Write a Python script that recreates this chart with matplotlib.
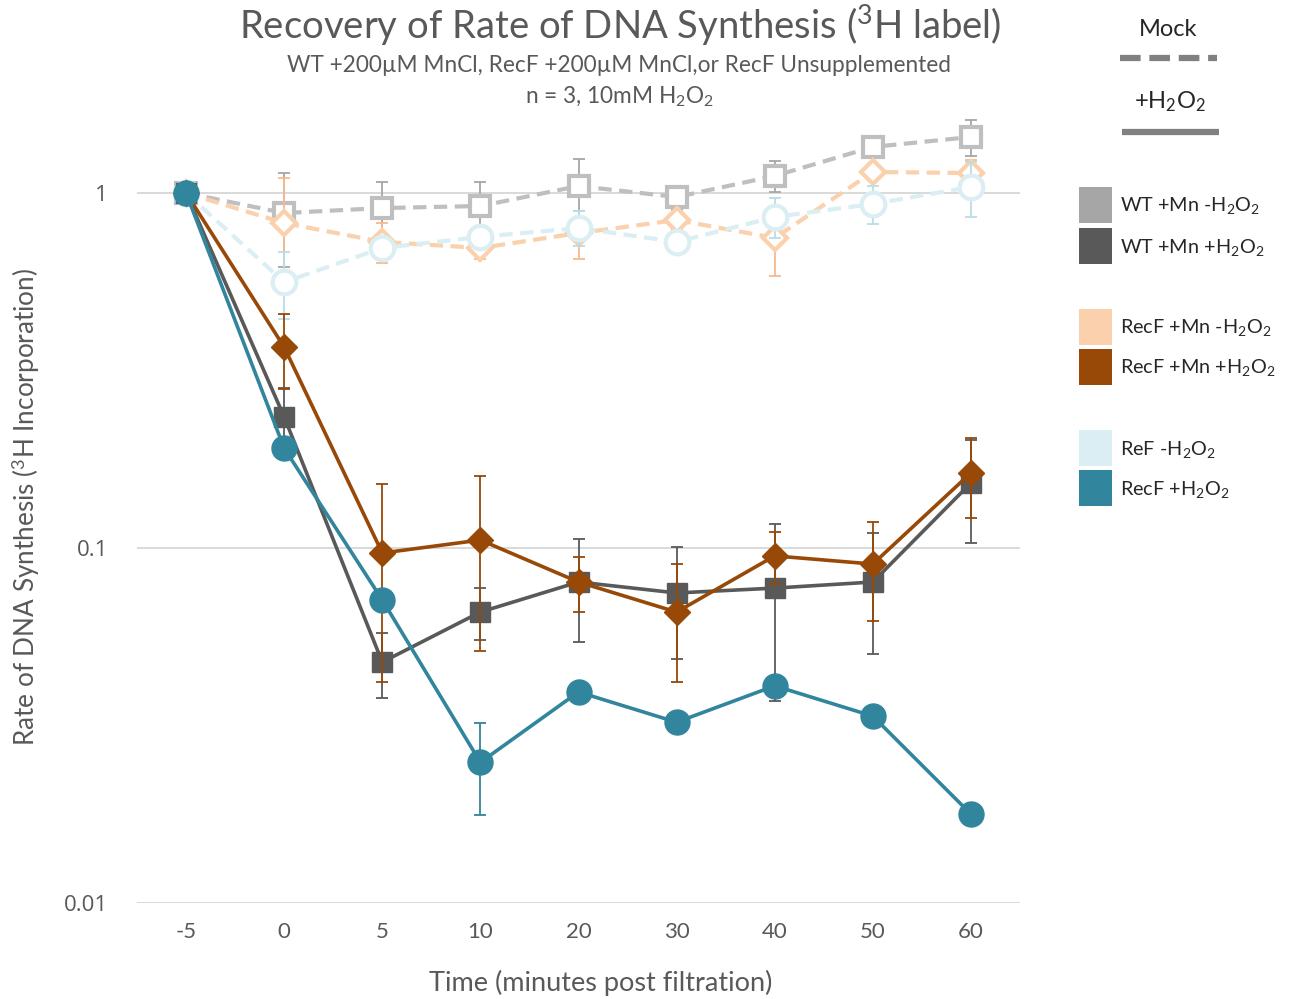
import matplotlib
matplotlib.use("Agg")
import matplotlib.pyplot as plt
from matplotlib.patches import Rectangle
from matplotlib.lines import Line2D

plt.rcParams['font.family'] = ['Lato', 'DejaVu Sans']
plt.rcParams['mathtext.fontset'] = 'custom'
plt.rcParams['mathtext.rm'] = 'Lato'
plt.rcParams['mathtext.it'] = 'Lato:italic'
plt.rcParams['mathtext.bf'] = 'Lato:bold'

# ---------------- data ----------------
time_labels = ['-5', '0', '5', '10', '20', '30', '40', '50', '60']

wt_mock = [1.0, 0.878, 0.907, 0.919, 1.046, 0.974, 1.117, 1.348, 1.438]
wt_mock_err = [0.0, 0.26, 0.17, 0.155, 0.20, 0.07, 0.11, 0.05, 0.17]

recf_mn_mock = [1.0, 0.823, 0.728, 0.700, 0.771, 0.839, 0.747, 1.146, 1.138]
recf_mn_mock_err = [0.0, 0.28, 0.093, 0.05, 0.12, 0.05, 0.163, 0.05, 0.10]

recf_mock = [1.0, 0.561, 0.700, 0.752, 0.797, 0.728, 0.856, 0.931, 1.04]
recf_mock_err = [0.0, 0.12, 0.05, 0.05, 0.09, 0.04, 0.11, 0.115, 0.185]

wt_h2o2 = [1.0, 0.234, 0.0477, 0.066, 0.0802, 0.0747, 0.0771, 0.0802, 0.1525]
wt_h2o2_err = [0.0, 0.048, 0.010, 0.011, 0.026, 0.026, 0.04, 0.03, 0.049]

recf_mn_h2o2 = [1.0, 0.368, 0.0968, 0.1053, 0.0802, 0.066, 0.095, 0.0901, 0.1628]
recf_mn_h2o2_err = [0.0, 0.088, 0.055, 0.054, 0.014, 0.024, 0.016, 0.028, 0.041]

recf_h2o2 = [1.0, 0.191, 0.0714, 0.0249, 0.0393, 0.0323, 0.0409, 0.0336, 0.0178]
recf_h2o2_err = [0.0, 0.003, 0.002, 0.0072, 0.002, 0.001, 0.002, 0.001, 0.0012]

legend_labels = ['WT +Mn -H$_2$O$_2$', 'WT +Mn +H$_2$O$_2$',
                 'RecF +Mn -H$_2$O$_2$', 'RecF +Mn +H$_2$O$_2$',
                 'ReF -H$_2$O$_2$', 'RecF +H$_2$O$_2$']

# ---------------- style ----------------
C_WT_L = '#bfbfbf'
C_WT_D = '#595959'
C_OR_L = '#fbd0ac'
C_OR_D = '#984807'
C_BL_L = '#daeef3'
C_BL_D = '#31859c'
TXT = '#595959'

fig = plt.figure(figsize=(12.91, 9.99), dpi=100)
ax = fig.add_axes([137/1291, 1-903/999, (1020-137)/1291, (903-110)/999])

x = list(range(len(time_labels)))

series = [
    (wt_mock, wt_mock_err, C_WT_L, '#a6a6a6', 's', True, 14),
    (recf_mn_mock, recf_mn_mock_err, C_OR_L, '#f9b98a', 'D', True, 12),
    (recf_mock, recf_mock_err, C_BL_L, '#b7dde8', 'o', True, 17),
    (wt_h2o2, wt_h2o2_err, C_WT_D, '#595959', 's', False, 15),
    (recf_mn_h2o2, recf_mn_h2o2_err, C_OR_D, '#984807', 'D', False, 13),
    (recf_h2o2, recf_h2o2_err, C_BL_D, '#31859c', 'o', False, 18),
]

z = 3
for vals, errs, col, ecol, mk, hollow, ms in series:
    ax.errorbar(x, vals, yerr=errs, fmt='none', ecolor=ecol, elinewidth=1.3,
                capsize=4.5, capthick=1.3, zorder=z)
    if hollow:
        line, = ax.plot(x, vals, color=col, lw=3, marker=mk, ms=ms,
                        mfc='white', mec=col, mew=3, zorder=z + 1)
        line.set_dashes([3.2, 1.8])
    else:
        ax.plot(x, vals, color=col, lw=2.6, marker=mk, ms=ms,
                mfc=col, mec=col, zorder=z + 1)
    z += 2

ax.set_yscale('log')
ax.set_ylim(0.01, 1.713)
ax.set_xlim(-0.5, 8.5)
ax.set_yticks([0.01, 0.1, 1])
ax.set_yticklabels(['0.01', '0.1', '1'])
ax.minorticks_off()
ax.set_xticks(x)
ax.set_xticklabels(time_labels)
ax.tick_params(length=0, labelsize=16, labelcolor=TXT)
ax.tick_params(axis='x', pad=14)
ax.tick_params(axis='y', pad=21)
for lab in ax.get_yticklabels():
    lab.set_fontfamily(['Open Sans', 'DejaVu Sans'])
    lab.set_fontsize(16)
for s in ax.spines.values():
    s.set_visible(False)
ax.grid(axis='y', color='#d9d9d9', lw=1.4)
ax.set_axisbelow(True)

ax.set_xlabel('Time (minutes post filtration)', fontsize=19.5, color=TXT)
ax.xaxis.set_label_coords(0.525, -0.084)
ax.set_ylabel('Rate of DNA Synthesis ($^3$H Incorporation)', fontsize=18.8, color=TXT)
ax.yaxis.set_label_coords(-0.108, 0.5)

# titles
fig.text(620/1291, 1-25/999, 'Recovery of Rate of DNA Synthesis ($^3$H label)',
         ha='center', va='center', fontsize=27.5, color=TXT)
fig.text(619/1291, 1-66/999, 'WT +200µM MnCl, RecF +200µM MnCl,or RecF Unsupplemented',
         ha='center', va='center', fontsize=16.3, color=TXT)
fig.text(619/1291, 1-97/999, 'n = 3, 10mM H$_2$O$_2$',
         ha='center', va='center', fontsize=16.3, color=TXT)

# legend (overlay)
lax = fig.add_axes([0, 0, 1, 1])
lax.set_xlim(0, 1291)
lax.set_ylim(999, 0)
lax.axis('off')

lax.text(1168, 30, 'Mock', ha='center', va='center', fontsize=17, color='#262626')
dl = Line2D([1120, 1217], [58, 58], color='#808080', lw=4.5, solid_capstyle='butt')
dl.set_dashes([3.3, 1.4])
dl.set_dash_capstyle('butt')
lax.add_line(dl)
lax.text(1170, 102, '+H$_2$O$_2$', ha='center', va='center', fontsize=17, color='#262626')
lax.add_line(Line2D([1122, 1219], [132, 132], color='#808080', lw=4.5,
                    solid_capstyle='butt'))

sw_cols = ['#a6a6a6', C_WT_D, C_OR_L, C_OR_D, C_BL_L, C_BL_D]
sw_top = [187, 228, 309, 349, 430, 470]
for col, top, lab in zip(sw_cols, sw_top, legend_labels):
    lax.add_patch(Rectangle((1079, top), 33, 36, facecolor=col, edgecolor='none'))
    lax.text(1120, top + 19, lab, ha='left', va='center', fontsize=14.3, color='#262626')

fig.savefig('out.png', dpi=100)
